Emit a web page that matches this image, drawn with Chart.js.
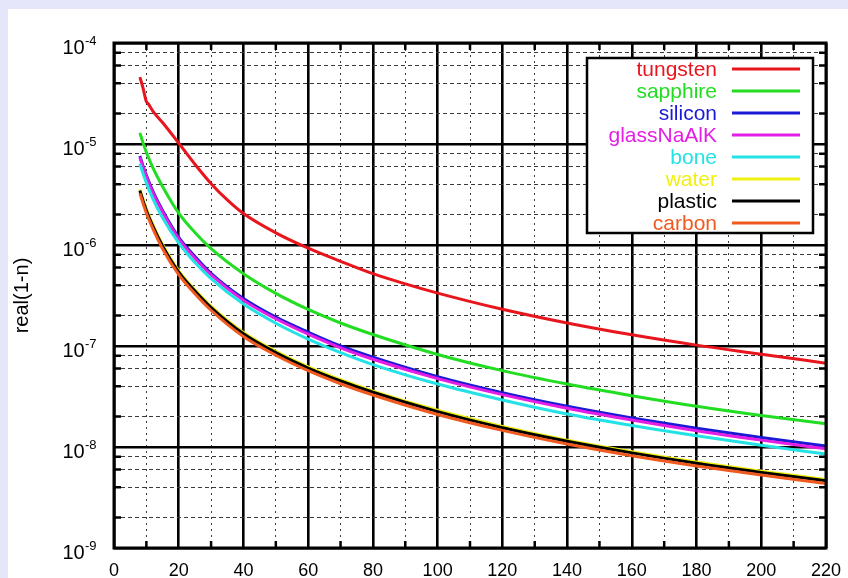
<!DOCTYPE html>
<html><head><meta charset="utf-8">
<script src="https://cdn.jsdelivr.net/npm/chart.js@4.4.1/dist/chart.umd.min.js"></script>
<style>html,body{margin:0;padding:0;background:#e6e6fa;overflow:hidden}canvas{display:block}</style>
</head><body>
<canvas id="c" width="848" height="578"></canvas>
<script>
// ---- data ----
const energies = [8, 9, 10, 12, 15, 20, 25, 30, 40, 50, 60, 70, 80, 100, 120, 140, 160, 180, 200, 220];
const tungstenEnergies = [8, 9, 10, 10.5, 12, 15, 20, 25, 30, 35, 40, 50, 60, 70, 80, 90, 100, 120, 140, 160, 180, 200, 220];
const tungsten = [4.6e-5, 3.55e-5, 2.63e-5, 2.52e-5, 2.12e-5, 1.63e-5, 1.02e-5, 6.3e-6, 4.05e-6, 2.8e-6, 2.05e-6, 1.32e-6, 9.3e-7, 6.9e-7, 5.2e-7, 4.12e-7, 3.34e-7, 2.31e-7, 1.69e-7, 1.29e-7, 1.02e-7, 8.3e-8, 6.75e-8];
const sapphire = [1.29e-5, 1.02e-5, 8.3e-6, 5.85e-6, 3.8e-6, 2.07e-6, 1.33e-6, 9.2e-7, 5.2e-7, 3.32e-7, 2.3e-7, 1.69e-7, 1.3e-7, 8.25e-8, 5.7e-8, 4.2e-8, 3.22e-8, 2.53e-8, 2.05e-8, 1.7e-8];
const silicon = [7.6e-6, 6.0e-6, 4.9e-6, 3.42e-6, 2.2e-6, 1.19e-6, 7.7e-7, 5.25e-7, 2.95e-7, 1.93e-7, 1.37e-7, 1.0e-7, 7.75e-8, 4.97e-8, 3.45e-8, 2.53e-8, 1.94e-8, 1.53e-8, 1.24e-8, 1.02e-8];
const glassNaAlK = [7.4e-6, 5.85e-6, 4.76e-6, 3.3e-6, 2.12e-6, 1.15e-6, 7.4e-7, 5.05e-7, 2.83e-7, 1.86e-7, 1.31e-7, 9.6e-8, 7.4e-8, 4.75e-8, 3.3e-8, 2.42e-8, 1.85e-8, 1.45e-8, 1.17e-8, 9.6e-9];
const bone = [6.4e-6, 5.06e-6, 4.12e-6, 2.88e-6, 1.86e-6, 1.05e-6, 6.7e-7, 4.65e-7, 2.6e-7, 1.68e-7, 1.17e-7, 8.6e-8, 6.55e-8, 4.2e-8, 2.92e-8, 2.12e-8, 1.63e-8, 1.29e-8, 1.04e-8, 8.5e-9];
const water = [3.55e-6, 2.8e-6, 2.27e-6, 1.59e-6, 1.01e-6, 5.55e-7, 3.6e-7, 2.47e-7, 1.36e-7, 8.85e-8, 6.2e-8, 4.63e-8, 3.58e-8, 2.31e-8, 1.6e-8, 1.17e-8, 9.0e-9, 7.1e-9, 5.77e-9, 4.76e-9];
const plastic = [3.45e-6, 2.72e-6, 2.2e-6, 1.54e-6, 9.8e-7, 5.4e-7, 3.5e-7, 2.4e-7, 1.32e-7, 8.6e-8, 6.05e-8, 4.5e-8, 3.48e-8, 2.24e-8, 1.55e-8, 1.14e-8, 8.75e-9, 6.9e-9, 5.6e-9, 4.62e-9];
const carbon = [3.25e-6, 2.57e-6, 2.07e-6, 1.45e-6, 9.2e-7, 5.08e-7, 3.29e-7, 2.26e-7, 1.24e-7, 8.1e-8, 5.7e-8, 4.23e-8, 3.27e-8, 2.1e-8, 1.46e-8, 1.07e-8, 8.2e-9, 6.5e-9, 5.27e-9, 4.34e-9];

const seriesLabels = ['tungsten', 'sapphire', 'silicon', 'glassNaAlK', 'bone', 'water', 'plastic', 'carbon'];
const seriesX = [tungstenEnergies, energies, energies, energies, energies, energies, energies, energies];
const seriesY = [tungsten, sapphire, silicon, glassNaAlK, bone, water, plastic, carbon];

const xMajorTicks = [0, 20, 40, 60, 80, 100, 120, 140, 160, 180, 200, 220];
const xMinorTicks = [10, 30, 50, 70, 90, 110, 130, 150, 170, 190, 210];
const yDecadeExponents = [-9, -8, -7, -6, -5, -4];
const yMinorMultipliers = [2, 4, 6, 8];
const yTitle = 'real(1-n)';

// ---- styles ----
const seriesColors = ['#e8161c', '#22dd22', '#1a1ad6', '#e41ee4', '#22e2e6', '#f0f010', '#000000', '#f05a1e'];
const FONT = '"Liberation Sans", Arial, Helvetica, sans-serif';

const yDecades = yDecadeExponents.map(e => Math.pow(10, e));
const yMinor = [];
yDecadeExponents.slice(0, -1).forEach(e => yMinorMultipliers.forEach(m => yMinor.push(m * Math.pow(10, e))));

const datasets = seriesLabels.map((lab, i) => ({
  label: lab,
  data: seriesX[i].map((x, j) => ({x: x, y: seriesY[i][j]})),
  borderColor: seriesColors[i],
  backgroundColor: seriesColors[i],
  borderWidth: 3,
  pointRadius: 0,
  fill: false,
  cubicInterpolationMode: 'monotone',
  order: seriesLabels.length - 1 - i
}));

const bgPlugin = {
  id: 'bg',
  beforeDraw(chart) {
    const ctx = chart.ctx;
    ctx.save();
    ctx.fillStyle = '#e6e6fa';
    ctx.fillRect(0, 0, chart.width, chart.height);
    ctx.fillStyle = '#ffffff';
    ctx.fillRect(8, 9, chart.width - 8, chart.height - 9);
    ctx.restore();
  }
};

const framePlugin = {
  id: 'frame',
  afterDatasetsDraw(chart) {
    const ctx = chart.ctx, ca = chart.chartArea;
    const xs = chart.scales.x2, ys = chart.scales.y2;
    ctx.save();
    // legend box
    const bx = ca.right - 239, by = ca.top + 15, bw = 226, bh = 175;
    ctx.fillStyle = '#fff';
    ctx.fillRect(bx, by, bw, bh);
    ctx.strokeStyle = '#000';
    ctx.lineWidth = 2.5;
    ctx.strokeRect(bx, by, bw, bh);
    ctx.font = '21px ' + FONT;
    ctx.textAlign = 'right';
    ctx.textBaseline = 'alphabetic';
    chart.data.datasets.forEach((ds, i) => {
      const yy = by + 11 + 22 * i;
      ctx.fillStyle = ds.borderColor;
      ctx.fillText(ds.label, bx + 130, yy + 7);
      ctx.strokeStyle = ds.borderColor;
      ctx.lineWidth = 3;
      ctx.beginPath();
      ctx.moveTo(bx + 145, yy);
      ctx.lineTo(bx + 213, yy);
      ctx.stroke();
    });
    // inward minor tick marks
    ctx.strokeStyle = '#000';
    ctx.lineWidth = 2.5;
    ctx.beginPath();
    ys.ticks.forEach(t => {
      const p = ys.getPixelForValue(t.value);
      ctx.moveTo(ca.left, p); ctx.lineTo(ca.left + 7, p);
      ctx.moveTo(ca.right, p); ctx.lineTo(ca.right - 7, p);
    });
    xs.ticks.forEach(t => {
      const p = xs.getPixelForValue(t.value);
      ctx.moveTo(p, ca.bottom); ctx.lineTo(p, ca.bottom - 7);
      ctx.moveTo(p, ca.top); ctx.lineTo(p, ca.top + 7);
    });
    ctx.stroke();
    // frame
    ctx.lineWidth = 3;
    ctx.strokeRect(ca.left, ca.top, ca.right - ca.left, ca.bottom - ca.top);
    ctx.restore();
  },
  afterDraw(chart) {
    // y tick labels: 10 with superscript exponent
    const ctx = chart.ctx, y = chart.scales.y;
    ctx.save();
    ctx.fillStyle = '#000';
    ctx.textBaseline = 'alphabetic';
    ctx.textAlign = 'left';
    y.ticks.forEach(t => {
      const p = y.getPixelForValue(t.value);
      const e = Math.round(Math.log10(t.value));
      ctx.font = '20px ' + FONT;
      ctx.fillText('10', 62.5, p + 10.5);
      ctx.font = '13px ' + FONT;
      ctx.fillText(String(e), 85, p + 1.5);
    });
    ctx.restore();
  }
};

function fixHorizontal(h) {
  return s => { s.height = h; s.paddingLeft = 0; s.paddingRight = 0; };
}

new Chart(document.getElementById('c'), {
  type: 'line',
  data: {datasets: datasets},
  options: {
    responsive: false,
    animation: false,
    devicePixelRatio: 1,
    layout: {padding: {left: 0, right: 22, top: 43, bottom: 0}},
    plugins: {legend: {display: false}, tooltip: {enabled: false}},
    scales: {
      x: {
        type: 'linear', min: 0, max: 220, position: 'bottom',
        afterBuildTicks: s => { s.ticks = xMajorTicks.map(v => ({value: v})); },
        afterFit: fixHorizontal(30),
        grid: {color: '#000', lineWidth: 2.6, drawTicks: false},
        border: {display: false},
        ticks: {color: '#000', font: {family: FONT, size: 18}, padding: 12, maxRotation: 0, autoSkip: false, callback: v => String(v)}
      },
      x2: {
        type: 'linear', min: 0, max: 220, position: 'bottom',
        afterBuildTicks: s => { s.ticks = xMinorTicks.map(v => ({value: v})); },
        afterFit: fixHorizontal(0),
        grid: {color: '#3a3a3a', lineWidth: 1, drawTicks: false},
        border: {display: false, dash: [2, 4]},
        ticks: {display: false}
      },
      y: {
        type: 'logarithmic', min: 1e-9, max: 1e-4, position: 'left',
        afterBuildTicks: s => { s.ticks = yDecades.map(v => ({value: v})); },
        afterFit: s => { s.width = 114; s.paddingTop = 0; s.paddingBottom = 0; },
        grid: {color: '#000', lineWidth: 2.6, drawTicks: false},
        border: {display: false},
        ticks: {display: false},
        title: {display: true, text: yTitle, color: '#000', font: {family: FONT, size: 20}, padding: {top: 10, bottom: 0}}
      },
      y2: {
        type: 'logarithmic', min: 1e-9, max: 1e-4, position: 'left',
        afterBuildTicks: s => { s.ticks = yMinor.map(v => ({value: v})); },
        afterFit: s => { s.width = 0; s.paddingTop = 0; s.paddingBottom = 0; },
        grid: {color: '#3a3a3a', lineWidth: 1, drawTicks: false},
        border: {display: false, dash: [4, 3]},
        ticks: {display: false}
      }
    }
  },
  plugins: [bgPlugin, framePlugin]
});
</script>
</body></html>
